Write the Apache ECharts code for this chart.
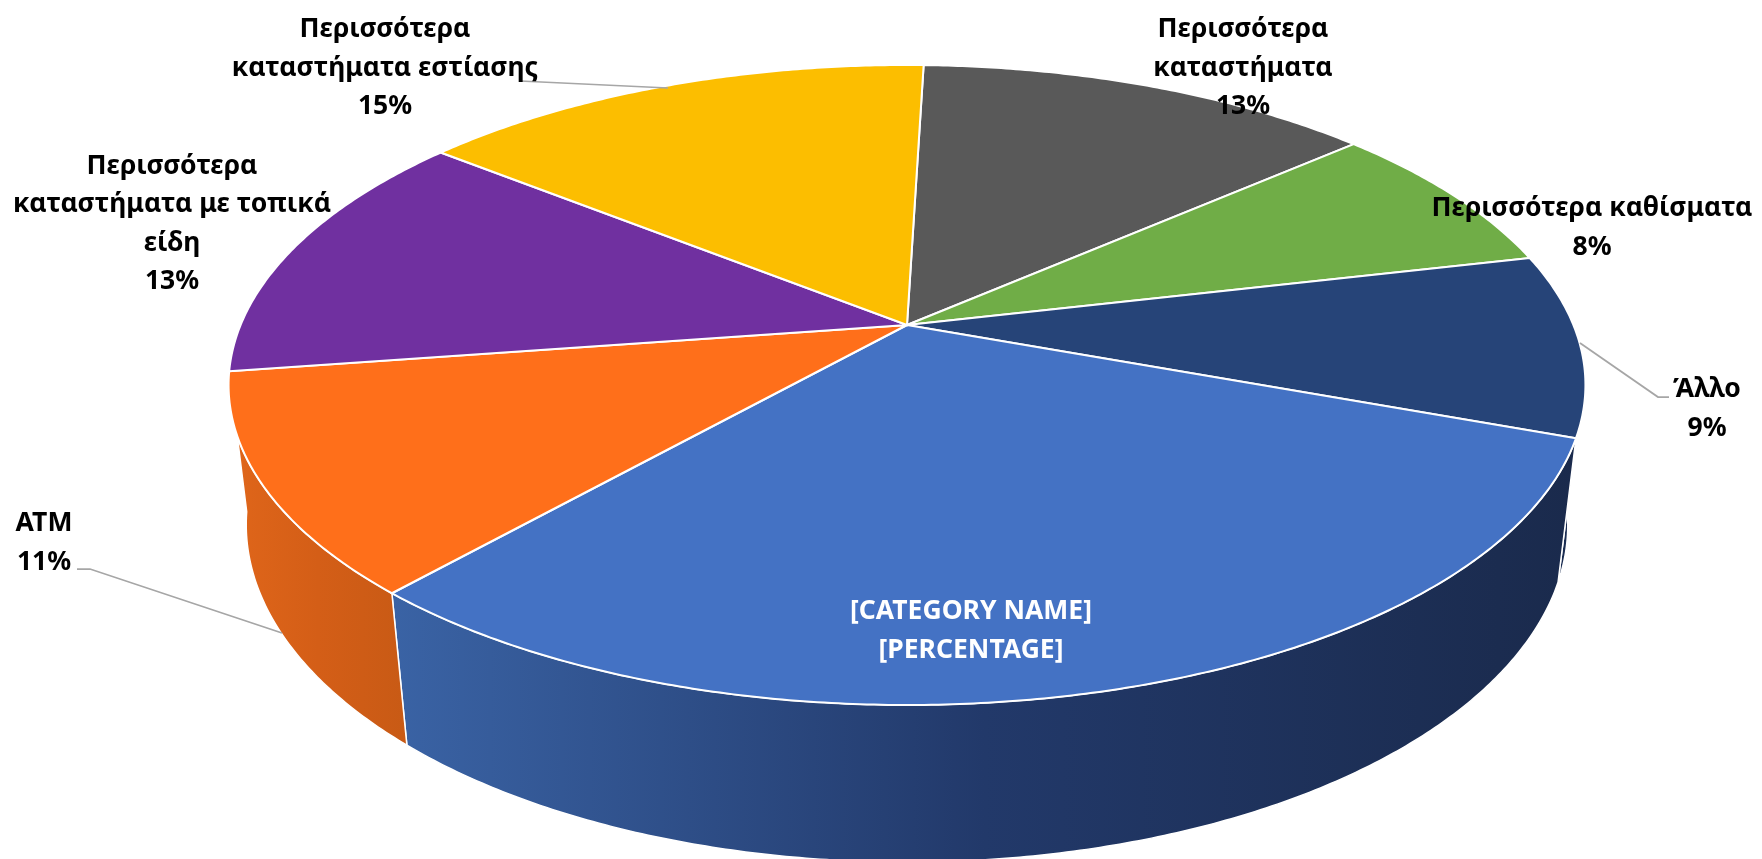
<!DOCTYPE html>
<html>
<head>
<meta charset="utf-8">
<title>Pie</title>
<script src="https://cdn.jsdelivr.net/npm/echarts@6/dist/echarts.min.js"></script>
<style>
  html, body { margin: 0; padding: 0; background: #fff; }
  #main { width: 1762px; height: 859px; }
</style>
</head>
<body>
<div id="main"></div>
<script>
  // values, clockwise from the top
  const names = ['Περισσότερα\nκαταστήματα', 'Περισσότερα καθίσματα', 'Άλλο', '[CATEGORY NAME]', 'ATM', 'Περισσότερα\nκαταστήματα με τοπικά\nείδη', 'Περισσότερα\nκαταστήματα εστίασης'];
  const values = [13.1, 7.8, 9.2, 31.0, 11.1, 13.05, 14.75];
  const percentText = ['13%', '8%', '9%', '[PERCENTAGE]', '11%', '13%', '15%'];

  const topColors = ['#595959', '#70AD47', '#264478', '#4472C4', '#FF6F1A', '#7030A0', '#FCBE00'];
  // only these slices show their side wall, the others are hidden behind the top
  const wallSlices = [2, 3, 4];
  const wallFrom = { 2: '#264478', 3: '#3A63A5', 4: '#E0661A' };
  const wallMid = { 2: '#1B2D52', 3: '#22396A', 4: '#D45E17' };
  const wallTo = { 2: '#1B2D52', 3: '#1A2A4C', 4: '#C85A15' };

  // where the labels sit: [centre x, centre y]
  const labelPos = [[1243, 68], [1592, 228], [1707, 409], [971, 631], [44, 543], [172, 224], [385, 68]];
  const labelColor = ['#000', '#000', '#000', '#fff', '#000', '#000', '#000'];
  const leaders = [
    [[520, 81], [668, 88]],
    [[1580, 343], [1658, 397], [1669, 397]],
    [[77, 569], [90, 569], [282, 633]]
  ];

  // the tilted disc: perspective projection of a unit circle
  const cx = 907, cy = 325, R = 666.4, S = 308.75, k = 0.1875;
  const depthQ = 0.0258, depthT = 141.5;
  const startDeg = 1.7;

  const total = values.reduce((a, b) => a + b, 0);
  function sliceRange(i) {
    let before = 0;
    for (let j = 0; j < i; j++) before += values[j];
    return [startDeg + before / total * 360, startDeg + (before + values[i]) / total * 360];
  }
  function project(deg, r, h) {
    const t = deg * Math.PI / 180;
    const u = r * Math.sin(t), v = -r * Math.cos(t);
    const w = 1 - k * v + depthQ * h;
    return [cx + R * u / w, cy + (S * v + depthT * h) / w];
  }
  function arc(a, b, h) {
    const pts = [];
    const n = Math.ceil((b - a) * 2);
    for (let i = 0; i <= n; i++) pts.push(project(a + (b - a) * i / n, 1, h));
    return pts;
  }

  const myChart = echarts.init(document.getElementById('main'), null, { renderer: 'canvas' });

  function renderWall(params, api) {
    const i = api.value(0);
    const [a, b] = sliceRange(i);
    return {
      type: 'polygon',
      shape: { points: arc(a, b, 0).concat(arc(a, b, 1).reverse()) },
      style: {
        fill: new echarts.graphic.LinearGradient(0, 0, 1, 0, [
          { offset: 0, color: wallFrom[i] },
          { offset: 0.5, color: wallMid[i] },
          { offset: 1, color: wallTo[i] }
        ]),
        stroke: '#fff',
        lineWidth: 1.5
      }
    };
  }
  function renderTop(params) {
    const i = params.dataIndex;
    const [a, b] = sliceRange(i);
    return {
      type: 'polygon',
      shape: { points: [project(0, 0, 0)].concat(arc(a, b, 0)) },
      style: { fill: topColors[i], stroke: '#fff', lineWidth: 2 }
    };
  }

  const labelElements = names.map((name, i) => ({
    type: 'text',
    x: labelPos[i][0],
    y: labelPos[i][1],
    z: 20,
    style: {
      text: name + '\n' + percentText[i],
      fill: labelColor[i],
      font: "bold 26.5px 'Noto Sans', sans-serif",
      lineHeight: 38.5,
      align: 'center',
      verticalAlign: 'middle'
    }
  }));
  const leaderElements = leaders.map(points => ({
    type: 'polyline',
    z: 15,
    shape: { points: points },
    style: { stroke: '#A6A6A6', lineWidth: 1.75, fill: null }
  }));

  myChart.setOption({
    backgroundColor: '#fff',
    animation: false,
    graphic: { elements: leaderElements.concat(labelElements) },
    series: [{
      name: 'walls',
      type: 'custom',
      coordinateSystem: 'none',
      renderItem: renderWall,
      data: wallSlices.map(i => [i]),
      silent: true,
      z: 2
    }, {
      name: 'tops',
      type: 'custom',
      coordinateSystem: 'none',
      renderItem: renderTop,
      data: values.map(v => [v]),
      silent: true,
      z: 3
    }]
  });
</script>
</body>
</html>
